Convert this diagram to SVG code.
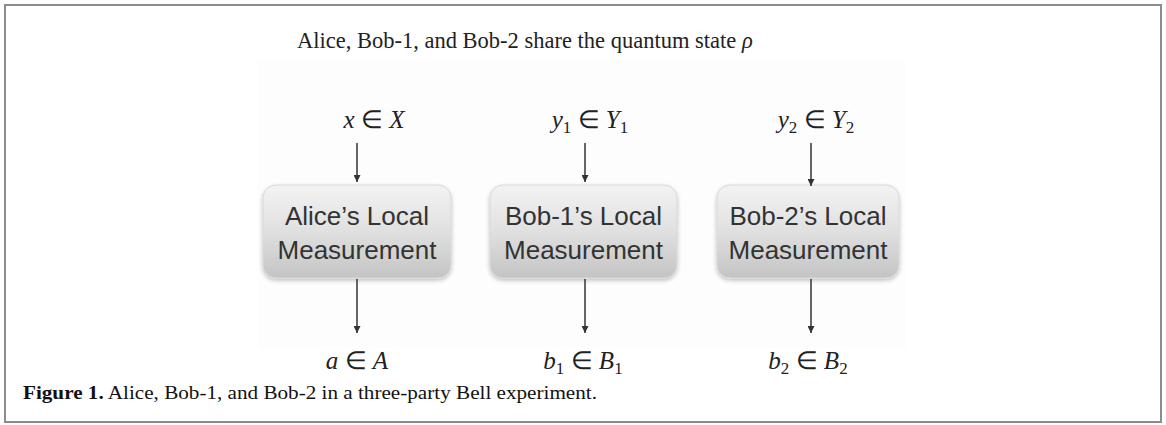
<svg xmlns="http://www.w3.org/2000/svg" width="1166" height="425" viewBox="0 0 1166 425">
  <defs>
    <linearGradient id="boxGrad" x1="0" y1="0" x2="0" y2="1">
      <stop offset="0" stop-color="#f3f3f3"/>
      <stop offset="0.5" stop-color="#e0e0e0"/>
      <stop offset="1" stop-color="#c4c4c4"/>
    </linearGradient>
    <filter id="shadow" x="-10%" y="-10%" width="120%" height="130%">
      <feGaussianBlur in="SourceAlpha" stdDeviation="2"/>
      <feOffset dx="0" dy="2" result="b"/>
      <feComponentTransfer><feFuncA type="linear" slope="0.25"/></feComponentTransfer>
      <feMerge><feMergeNode/><feMergeNode in="SourceGraphic"/></feMerge>
    </filter>
    <marker id="arrow" viewBox="0 0 10 10" refX="10" refY="5" markerWidth="8" markerHeight="7" markerUnits="userSpaceOnUse" orient="auto">
      <path d="M0,0 L10,5 L0,10 z" fill="#333"/>
    </marker>
  </defs>
  <style>
    .frame { fill: #ffffff; stroke: #8c8c8c; stroke-width: 2; }
    .panel { fill: #fdfdfd; }
    .box { fill: url(#boxGrad); stroke: #d8d8d8; stroke-width: 1; filter: url(#shadow); }
    .btxt { font-family: "Liberation Sans", Arial, sans-serif; font-size: 26px; fill: #333333; text-anchor: middle; }
    .math { font-family: "Liberation Serif", "Times New Roman", serif; font-size: 25px; fill: #222222; text-anchor: middle; }
    .it { font-style: italic; }
    .title { font-family: "Liberation Serif", "Times New Roman", serif; font-size: 22.5px; fill: #222222; }
    .cap { font-family: "Liberation Serif", "Times New Roman", serif; font-size: 19px; fill: #111111; }
    .conn line { stroke: #333333; stroke-width: 1.5; marker-end: url(#arrow); }
  </style>

  <rect class="frame" x="5" y="5" width="1156" height="417"/>
  <rect class="panel" x="258" y="60" width="648" height="289"/>

  <text class="title" x="297" y="48">Alice, Bob-1, and Bob-2 share the quantum state <tspan class="it">ρ</tspan></text>

  <g id="input-labels">
    <text class="math" x="374" y="128"><tspan class="it">x</tspan> ∈ <tspan class="it">X</tspan></text>
    <text class="math" x="590" y="128"><tspan class="it">y</tspan><tspan font-size="17" dy="5">1</tspan><tspan dy="-5"> ∈ </tspan><tspan class="it">Y</tspan><tspan font-size="17" dy="5">1</tspan></text>
    <text class="math" x="816" y="128"><tspan class="it">y</tspan><tspan font-size="17" dy="5">2</tspan><tspan dy="-5"> ∈ </tspan><tspan class="it">Y</tspan><tspan font-size="17" dy="5">2</tspan></text>
  </g>

  <g id="alice">
    <rect class="box" x="263" y="185" width="188" height="93" rx="13"/>
    <text class="btxt" x="357" y="225">Alice’s Local</text>
    <text class="btxt" x="357" y="259">Measurement</text>
  </g>
  <g id="bob1">
    <rect class="box" x="490" y="185" width="187" height="93" rx="13"/>
    <text class="btxt" x="583.5" y="225">Bob-1’s Local</text>
    <text class="btxt" x="583.5" y="259">Measurement</text>
  </g>
  <g id="bob2">
    <rect class="box" x="717" y="185" width="182" height="93" rx="13"/>
    <text class="btxt" x="808" y="225">Bob-2’s Local</text>
    <text class="btxt" x="808" y="259">Measurement</text>
  </g>

  <g id="output-labels">
    <text class="math" x="357" y="369"><tspan class="it">a</tspan> ∈ <tspan class="it">A</tspan></text>
    <text class="math" x="583" y="369"><tspan class="it">b</tspan><tspan font-size="17" dy="5">1</tspan><tspan dy="-5"> ∈ </tspan><tspan class="it">B</tspan><tspan font-size="17" dy="5">1</tspan></text>
    <text class="math" x="808" y="369"><tspan class="it">b</tspan><tspan font-size="17" dy="5">2</tspan><tspan dy="-5"> ∈ </tspan><tspan class="it">B</tspan><tspan font-size="17" dy="5">2</tspan></text>
  </g>

  <g id="connectors" class="conn">
    <line x1="357" y1="143" x2="357" y2="182"/>
    <line x1="585" y1="143" x2="585" y2="182"/>
    <line x1="811" y1="143" x2="811" y2="186"/>
    <line x1="357" y1="279" x2="357" y2="333"/>
    <line x1="585" y1="279" x2="585" y2="333"/>
    <line x1="811" y1="279" x2="811" y2="333"/>
  </g>

  <text class="cap" x="23" y="399" textLength="574" lengthAdjust="spacingAndGlyphs"><tspan font-weight="bold">Figure 1.</tspan> Alice, Bob-1, and Bob-2 in a three-party Bell experiment.</text>
</svg>
